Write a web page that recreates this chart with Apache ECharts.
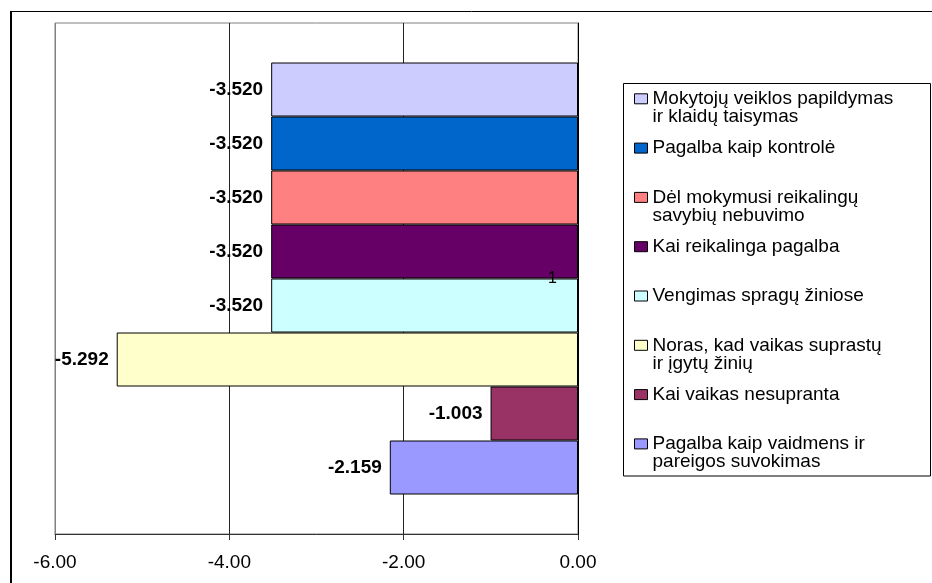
<!DOCTYPE html>
<html><head><meta charset="utf-8">
<script src="https://cdn.jsdelivr.net/npm/echarts@6/dist/echarts.min.js"></script>
<style>html,body{margin:0;padding:0;background:#fff}#c{width:932px;height:583px}</style>
</head><body><div id="c"></div>
<script>
const categories = ['1'];
const seriesNames = [
  'Mokytojų veiklos papildymas\nir klaidų taisymas',
  'Pagalba kaip kontrolė',
  'Dėl mokymusi reikalingų\nsavybių nebuvimo',
  'Kai reikalinga pagalba',
  'Vengimas spragų žiniose',
  'Noras, kad vaikas suprastų\nir įgytų žinių',
  'Kai vaikas nesupranta',
  'Pagalba kaip vaidmens ir\npareigos suvokimas'
];
const seriesValues = [-3.520, -3.520, -3.520, -3.520, -3.520, -5.292, -1.003, -2.159];
const xMin = -6, xMax = 0, xStep = 2;

const colors = ['#CCCCFF','#0066CC','#FF8080','#660066','#CCFFFF','#FFFFCC','#993366','#9999FF'];
const FONT = '"Liberation Sans", Arial, sans-serif';
const legendFirstLineY = [98.3, 147.6, 196.9, 246.2, 295.5, 344.8, 394.1, 443.4];
const LH = 18;

const chart = echarts.init(document.getElementById('c'));
const series = seriesNames.map((n, i) => ({
  type: 'bar', name: n, data: [seriesValues[i]], barWidth: 54, barGap: '0%',
  itemStyle: { color: colors[i], borderColor: '#000', borderWidth: 1 },
  label: { show: true, position: 'left', distance: 8, formatter: p => p.value.toFixed(3),
    fontFamily: FONT, fontWeight: 'bold', fontSize: 19, color: '#000' },
  emphasis: { disabled: true }
}));
const legends = seriesNames.map((n, i) => {
  const two = n.includes('\n');
  return {
    data: [n], left: 634, top: legendFirstLineY[i] - (two ? 1.5 : 0.5) * LH,
    padding: 0, itemWidth: 13, itemHeight: 10, itemGap: 0, icon: 'rect',
    formatter: nm => two ? '\n' + nm : nm,
    textStyle: { fontFamily: FONT, fontSize: 19, color: '#000', lineHeight: LH },
    itemStyle: { borderColor: '#000', borderWidth: 1 }
  };
});
chart.setOption({
  animation: false,
  backgroundColor: '#fff',
  grid: { left: 55, right: 354, top: 23, bottom: 49, show: true, borderColor: '#808080', borderWidth: 1 },
  xAxis: {
    type: 'value', min: xMin, max: xMax, interval: xStep,
    axisLine: { show: true, onZero: false, lineStyle: { color: '#333', width: 1 } },
    axisTick: { show: true, length: 6, lineStyle: { color: '#333' } },
    axisLabel: { formatter: v => v.toFixed(2), fontFamily: FONT, fontSize: 19, color: '#000', margin: 19 },
    splitLine: { show: true, lineStyle: { color: ['#808080', '#222', '#222', '#000'], width: 1 } }
  },
  yAxis: {
    type: 'category', data: categories, inverse: true, z: 10, position: 'right',
    axisLine: { show: true, onZero: false, lineStyle: { color: '#000' } },
    axisTick: { show: false },
    axisLabel: { inside: true, fontFamily: FONT, fontSize: 16, color: '#000', margin: 21 },
    splitLine: { show: false }
  },
  legend: legends,
  series: series,
  graphic: [
    { type: 'line', shape: { x1: 11, y1: 11, x2: 11, y2: 600 }, style: { stroke: '#000', lineWidth: 2 } },
    { type: 'line', shape: { x1: 10, y1: 11.5, x2: 940, y2: 11.5 }, style: { stroke: '#000', lineWidth: 1 } },
    { type: 'rect', shape: { x: 623.5, y: 83.5, width: 307, height: 392.5 }, style: { fill: 'none', stroke: '#000', lineWidth: 1 } }
  ]
});
</script></body></html>
